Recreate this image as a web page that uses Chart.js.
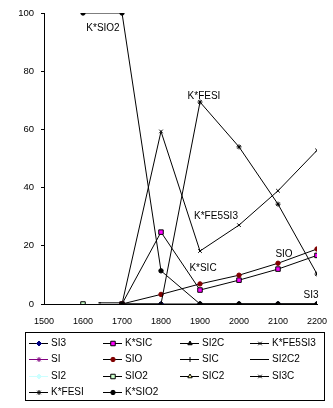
<!DOCTYPE html>
<html>
<head>
<meta charset="utf-8">
<script src="https://cdn.jsdelivr.net/npm/chart.js@4.4.1/dist/chart.umd.min.js"></script>
<style>
  html, body { margin: 0; padding: 0; background: #fff; }
  #chart { display: block; }
</style>
</head>
<body>
<canvas id="chart" width="333" height="408"></canvas>
<script>
// Years on the x axis (scatter chart, linear x)
const years = [1600, 1700, 1800, 1900, 2000, 2100, 2200];
const xTickMin = 1500, xTickMax = 2200, xTickStep = 100;
const yTickMin = 0, yTickMax = 100, yTickStep = 20;

// Series values, aligned with years (null = no point)
const si3Values    = [null, 0, 0, 0, 0, 0, 0];
const kSicValues   = [null, 0, 24.7, 4.8, 8.2, 12.0, 16.7];
const si2cValues   = [null, null, null, null, null, null, null];
const kFe5Si3Values = [null, 0, 59.3, 18.2, 27.1, 38.9, 52.8];
const siValues     = [null, null, null, null, null, null, null];
const sioValues    = [null, 0, 3.3, 6.9, 9.9, 14.0, 18.9];
const sicValues    = [null, null, null, null, null, null, null];
const si2c2Years   = [1640, 1700];
const si2c2Values  = [0.4, 0.4];
const si2Values    = [null, null, null, null, null, null, null];
const sio2Values   = [0, null, null, null, null, null, null];
const sic2Values   = [null, 0, null, 0, 0, 0, 0];
const si3cValues   = [null, null, null, null, null, null, null];
const kFeSiValues  = [null, 0, 0, 69.4, 54.0, 34.3, 10.3];
const kSio2Values  = [100, 100, 11.4, 0, 0, 0, 0];

const FONT = "'Liberation Sans', Arial, sans-serif";

function toPoints(xs, ys) {
  return xs.map((x, i) => ({ x: x, y: ys[i] }));
}

function series(label, xs, ys, line, style, fill, stroke, radius) {
  return {
    label: label,
    data: toPoints(xs, ys),
    borderColor: line,
    borderWidth: 1,
    pointStyle: style,
    pointRadius: radius,
    pointBackgroundColor: fill,
    pointBorderColor: stroke,
    pointBorderWidth: 1,
    showLine: true,
    spanGaps: false,
    tension: 0
  };
}

const datasets = [
  series('SI3', years, si3Values, '#000000', 'rectRot', '#000080', '#000080', 2.5),
  series('K*SIC', years, kSicValues, '#000000', 'rect', '#FF00FF', '#000000', 3.2),
  series('SI2C', years, si2cValues, '#000000', 'triangle', '#000000', '#000000', 2.5),
  series('K*FE5SI3', years, kFe5Si3Values, '#000000', 'crossRot', '#000000', '#000000', 2.5),
  series('SI', years, siValues, '#800080', 'star', '#800080', '#800080', 2.5),
  series('SIO', years, sioValues, '#000000', 'circle', '#800000', '#800000', 2.2),
  series('SIC', years, sicValues, '#000000', 'cross', '#000000', '#000000', 2.5),
  series('SI2C2', si2c2Years, si2c2Values, '#000000', 'dash', '#000000', '#000000', 2.5),
  series('SI2', years, si2Values, '#CCFFFF', 'rectRot', '#CCFFFF', '#CCFFFF', 2.5),
  series('SIO2', years, sio2Values, '#000000', 'rect', '#CCFFCC', '#000000', 3.2),
  series('SIC2', years, sic2Values, '#000000', 'triangle', '#FFFF99', '#000000', 2.5),
  series('SI3C', years, si3cValues, '#000000', 'crossRot', '#000000', '#000000', 2.5),
  series('K*FESI', years, kFeSiValues, '#000000', 'star', '#000000', '#000000', 2.5),
  series('K*SIO2', years, kSio2Values, '#000000', 'circle', '#000000', '#000000', 2.2)
];
// later series on top, like the original
datasets.forEach((d, i) => { d.order = datasets.length - i; });

// Data labels next to chosen points: [text, dataset, point index, dx, dy]
const pointLabels = [
  ['K*SIO2', 13, 0, 20, 15],
  ['K*FESI', 12, 3, 4, -6],
  ['K*FE5SI3', 3, 3, 16, -35],
  ['K*SIC', 1, 3, 3, -22],
  ['SIO', 5, 5, 6, -9],
  ['SI3', 0, 6, -6, -9]
];

const labelPlugin = {
  id: 'pointLabels',
  afterDatasetsDraw(chart) {
    const ctx = chart.ctx;
    const xs = chart.scales.x, ys = chart.scales.y;
    ctx.save();
    ctx.font = '10px ' + FONT;
    ctx.fillStyle = '#000';
    ctx.textAlign = 'center';
    ctx.textBaseline = 'middle';
    pointLabels.forEach(([text, ds, idx, dx, dy]) => {
      const p = chart.data.datasets[ds].data[idx];
      ctx.fillText(text, xs.getPixelForValue(p.x) + dx, ys.getPixelForValue(p.y) + dy);
    });
    ctx.restore();
  }
};

// Legend box below the plot, 4 columns
const legendCols = [29, 103, 180, 250];
const legendRows = [343, 359, 375.5, 392];

const legendPlugin = {
  id: 'boxLegend',
  afterDraw(chart) {
    const ctx = chart.ctx;
    ctx.save();
    ctx.strokeStyle = '#000';
    ctx.lineWidth = 1;
    ctx.strokeRect(25.5, 332.5, 299, 68);
    ctx.font = '10px ' + FONT;
    ctx.textBaseline = 'middle';
    ctx.textAlign = 'left';
    chart.data.datasets.forEach((d, i) => {
      const x = legendCols[i % 4];
      const y = Math.round(legendRows[Math.floor(i / 4)]) + 0.5;
      ctx.strokeStyle = d.borderColor;
      ctx.beginPath();
      ctx.moveTo(x, y);
      ctx.lineTo(x + 19, y);
      ctx.stroke();
      ctx.fillStyle = d.pointBackgroundColor;
      ctx.strokeStyle = d.pointBorderColor;
      ctx.lineWidth = 1;
      Chart.helpers.drawPoint(ctx, {
        pointStyle: d.pointStyle,
        radius: d.pointRadius,
        rotation: 0,
        borderWidth: 1
      }, x + 10, y);
      ctx.fillStyle = '#000';
      ctx.fillText(d.label, x + 22, y);
    });
    ctx.restore();
  }
};

new Chart(document.getElementById('chart'), {
  type: 'line',
  data: { datasets: datasets },
  plugins: [labelPlugin, legendPlugin],
  options: {
    responsive: false,
    animation: false,
    layout: { padding: { top: 13, right: 16, left: 0, bottom: 0 } },
    plugins: {
      legend: { display: false },
      tooltip: { enabled: false }
    },
    scales: {
      x: {
        type: 'linear',
        min: xTickMin,
        max: xTickMax,
        grid: { display: false, drawTicks: false },
        border: { display: true, color: '#000', width: 1 },
        ticks: {
          stepSize: xTickStep,
          padding: 12,
          color: '#000',
          font: { family: FONT, size: 9 },
          maxRotation: 0,
          callback: v => String(v)
        },
        afterFit: s => { s.height = 104; s.paddingLeft = 0; s.paddingRight = 0; }
      },
      y: {
        min: yTickMin,
        max: yTickMax,
        grid: { display: true, drawOnChartArea: false, drawTicks: true, tickLength: 3, color: '#000' },
        border: { display: true, color: '#000', width: 1 },
        ticks: {
          stepSize: yTickStep,
          padding: 7,
          color: '#000',
          font: { family: FONT, size: 9.5 }
        },
        afterFit: s => { s.width = 44; s.paddingTop = 0; s.paddingBottom = 0; }
      }
    }
  }
});
</script>
</body>
</html>
